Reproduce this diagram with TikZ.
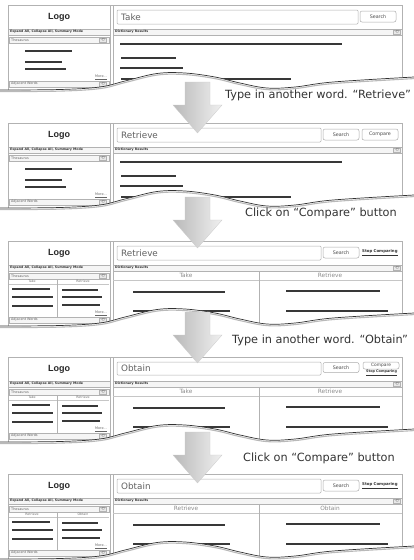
\documentclass[tikz,border=0pt]{standalone}
\usepackage{fontspec}
\setmainfont{DejaVu Sans}
\newfontfamily\logofont{Liberation Sans}

\newcommand\uibase[1]{%
  \path[barbox] (8,24) rectangle (110,30);
  \path[barbox] (113,24) rectangle (402,30);
  \draw[frameline] (8,92) -- (8,0) -- (402,0) -- (402,92);
  \draw[frameline] (110,0) -- (110,92);
  \draw[frameline] (113,0) -- (113,92);
  \node[logotext] (#1logo) at (59,12) {Logo};
  \node[bartext] (#1exp) at (10,27) {Expand All, Collapse All, Summary Mode};
  \node[bartext] (#1dict) at (115,27) {Dictionary Results};
  \node[iconbox] (#1ica) at (397,27) {-□};
  \path[barbox] (9,32) rectangle (109,38);
  \node[lighttext] (#1thes) at (11,35) {Thesaurus};
  \node[iconbox] (#1icb) at (103,35) {-□};
  \node[lighttext] (#1more) at (95,72.5) {\underline{More...}};
  \path[barbox] (9,76) rectangle (109,82);
  \node[lighttext] (#1adj) at (11,79) {Adjacent Words};
  \node[iconbox] (#1icc) at (103,79) {-□};
}
\newcommand\singlecontent{%
  \draw[leftline] (25,46) -- (72,46);
  \draw[leftline] (25,57) -- (62,57);
  \draw[leftline] (25,64) -- (66,64);
  \draw[resline] (120,39) -- (342,39);
  \draw[resline] (121,53) -- (176,53);
  \draw[resline] (120,63) -- (183,63);
  \draw[resline] (121,74) -- (291,74);
}
\newcommand\comparecontent[3]{%
  \draw[thinline] (9,43) -- (109,43);
  \draw[frameline] (57,38) -- (57,76);
  \node[colheadsmall] (#1la) at (32,40.5) {#2};
  \node[colheadsmall] (#1lb) at (83,40.5) {#3};
  \draw[leftline] (12,48) -- (50,48);
  \draw[leftline] (12,56) -- (53,56);
  \draw[leftline] (12,65) -- (53,65);
  \draw[leftline] (62,49) -- (98,49);
  \draw[leftline] (62,56) -- (102,56);
  \draw[leftline] (62,64) -- (100,64);
  \draw[thinline] (113,39) -- (402,39);
  \draw[frameline] (259,30) -- (259,92);
  \node[colhead] (#1ra) at (186,34.5) {#2};
  \node[colhead] (#1rb) at (330,34.5) {#3};
  \draw[resline] (133,51) -- (225,51);
  \draw[resline] (133,70) -- (230,70);
  \draw[resline] (286,50) -- (380,50);
  \draw[resline] (286,70) -- (388,70);
}
\newcommand\uiwave{%
  \fill[white] plot[smooth,tension=0.6] coordinates {(0,85) (60,84.5) (100,82) (125,76) (157,68.5) (185,68) (215,72) (240,78) (267,83) (295,82) (333,77) (414,72)} -- (414,95) -- (0,95) -- cycle;
  \draw[gray!55, line width=1.1pt, yshift=-1.6pt] plot[smooth,tension=0.6] coordinates {(0,85) (60,84.5) (100,82) (125,76) (157,68.5) (185,68) (215,72) (240,78) (267,83) (295,82) (333,77) (414,72)};
  \draw[black!80, line width=0.7pt] plot[smooth,tension=0.6] coordinates {(0,85) (60,84.5) (100,82) (125,76) (157,68.5) (185,68) (215,72) (240,78) (267,83) (295,82) (333,77) (414,72)};
}
\newcommand\downarrowat[1]{%
  \shade[bigarrow] (185,#1-51) -- (210,#1-51) -- (210,#1-28) -- (222,#1-28) -- (197.5,#1) -- (173,#1-28) -- (185,#1-28) -- cycle;
}

\begin{document}
\begin{tikzpicture}[x=1pt,y=-1pt,
  frameline/.style={draw=gray!60, line width=0.55pt},
  thinline/.style={draw=gray!45, line width=0.4pt},
  barbox/.style={draw=gray!60, fill=gray!8, line width=0.45pt},
  bartext/.style={font=\fontsize{3.2}{3.6}\selectfont\bfseries, text=black!80, inner sep=0, anchor=west},
  lighttext/.style={font=\fontsize{3.4}{3.8}\selectfont, text=black!60, inner sep=0, anchor=west},
  logotext/.style={font=\logofont\fontsize{9}{10}\selectfont\bfseries, text=black!85, inner sep=0},
  wordtext/.style={font=\fontsize{8.8}{10}\selectfont, text=black!62, inner sep=0, anchor=west},
  inputbox/.style={draw=gray!60, rounded corners=1pt, line width=0.5pt, fill=white},
  btnbox/.style={draw=gray!65, rounded corners=2pt, line width=0.5pt, fill=white, inner sep=0, font=\fontsize{4.8}{5}\selectfont, text=black!70},
  linkt/.style={font=\fontsize{3.9}{4.2}\selectfont\bfseries, text=black!80, inner sep=0, anchor=west},
  resline/.style={line width=1.3pt, draw=black!78},
  leftline/.style={line width=1.1pt, draw=black!78},
  colhead/.style={font=\fontsize{5.8}{6}\selectfont, text=black!45, inner sep=0},
  colheadsmall/.style={font=\fontsize{3.2}{3.6}\selectfont, text=black!55, inner sep=0},
  iconbox/.style={draw=gray!60, fill=gray!18, line width=0.3pt, minimum width=7pt, minimum height=3.6pt, inner sep=0, font=\fontsize{2.6}{2.6}\selectfont},
  captext/.style={font=\fontsize{11.3}{13}\selectfont, text=black!80, inner sep=0, anchor=west},
  bigarrow/.style={left color=gray!55, right color=gray!12, draw=gray!40, line width=0.3pt}]
\useasboundingbox (0,0) rectangle (414,560);
\fill[white] (0,0) rectangle (414,560);

% Panel 1
\begin{scope}[yshift=-5pt]
  \uibase{pa}
  \draw[inputbox] (117,5) rectangle (358,19);
  \node[wordtext] (paword) at (121,12) {Take};
  \node[btnbox, minimum width=36pt, minimum height=11pt] (pasearch) at (378,11.5) {Search};
  \singlecontent
  \uiwave
\end{scope}

% Panel 2
\begin{scope}[yshift=-123pt]
  \uibase{pb}
  \draw[inputbox] (117,5) rectangle (321,19);
  \node[wordtext] (pbword) at (121,12) {Retrieve};
  \node[btnbox, minimum width=36pt, minimum height=11pt] (pbsearch) at (341,11.5) {Search};
  \node[btnbox, minimum width=36pt, minimum height=11pt] (pbcomp) at (380,11.5) {Compare};
  \singlecontent
  \uiwave
\end{scope}

% Panel 3
\begin{scope}[yshift=-241pt]
  \uibase{pc}
  \draw[inputbox] (117,5) rectangle (321,19);
  \node[wordtext] (pcword) at (121,12) {Retrieve};
  \node[btnbox, minimum width=36pt, minimum height=11pt] (pcsearch) at (341,11.5) {Search};
  \node[linkt] (pcstop) at (362,11.5) {\underline{Stop Comparing}};
  \comparecontent{pc}{Take}{Retrieve}
  \uiwave
\end{scope}

% Panel 4
\begin{scope}[yshift=-357pt]
  \uibase{pd}
  \draw[inputbox] (117,5) rectangle (321,18);
  \node[wordtext] (pdword) at (121,11.5) {Obtain};
  \node[btnbox, minimum width=36pt, minimum height=10pt] (pdsearch) at (341,10.5) {Search};
  \node[btnbox, minimum width=36pt, minimum height=7pt, font=\fontsize{4.4}{4.6}\selectfont] (pdcomp) at (381,8.5) {Compare};
  \node[linkt, font=\fontsize{3.4}{3.6}\selectfont\bfseries] (pdstop) at (366,16) {\underline{Stop Comparing}};
  \comparecontent{pd}{Take}{Retrieve}
  \uiwave
\end{scope}

% Panel 5
\begin{scope}[yshift=-474pt]
  \uibase{pe}
  \draw[inputbox] (117,5) rectangle (321,19);
  \node[wordtext] (peword) at (121,12) {Obtain};
  \node[btnbox, minimum width=36pt, minimum height=11pt] (pesearch) at (341,11.5) {Search};
  \node[linkt] (pestop) at (362,11.5) {\underline{Stop Comparing}};
  \comparecontent{pe}{Retrieve}{Obtain}
  \uiwave
\end{scope}

% Arrows and captions
\downarrowat{133}
\downarrowat{248}
\downarrowat{363}
\downarrowat{483}
\node[captext] (capa) at (225,95) {Type in another word. “Retrieve”};
\node[captext] (capb) at (245,213) {Click on “Compare” button};
\node[captext] (capc) at (232,340) {Type in another word. “Obtain”};
\node[captext] (capd) at (243,458) {Click on “Compare” button};
\end{tikzpicture}
\end{document}
